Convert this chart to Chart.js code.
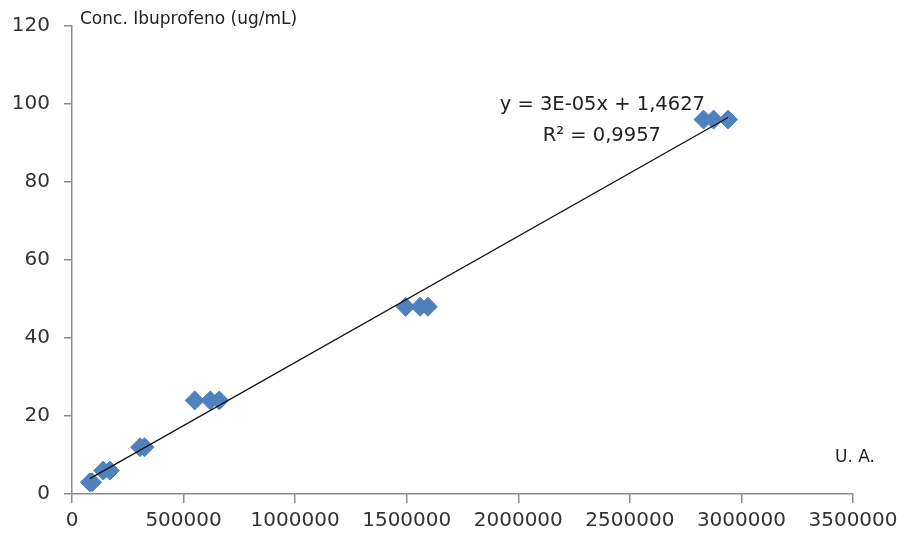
<!DOCTYPE html>
<html>
<head>
<meta charset="utf-8">
<script src="https://cdn.jsdelivr.net/npm/chart.js@4"></script>
<style>
  html, body { margin: 0; padding: 0; background: #fff; }
  #wrap { width: 906px; height: 543px; }
</style>
</head>
<body>
<div id="wrap"><canvas id="myChart" width="906" height="543"></canvas></div>
<script>
// data
var uaValues = [80000, 90000, 140000, 170000, 305000, 325000, 550000, 620000, 660000, 1495000, 1560000, 1595000, 2830000, 2875000, 2940000];
var concValues = [3, 3, 6, 6, 12, 12, 24, 24, 24, 48, 48, 48, 96, 96, 96];
var xTicks = [0, 500000, 1000000, 1500000, 2000000, 2500000, 3000000, 3500000];
var yTicks = [0, 20, 40, 60, 80, 100, 120];
var eqText = 'y = 3E-05x + 1,4627';
var r2Text = 'R² = 0,9957';
var yTitle = 'Conc. Ibuprofeno (ug/mL)';
var xTitle = 'U. A.';

// least squares trendline over the data range
function fitLine(xs, ys) {
  var n = xs.length, sx = 0, sy = 0, sxx = 0, sxy = 0;
  for (var i = 0; i < n; i++) {
    sx += xs[i]; sy += ys[i]; sxx += xs[i] * xs[i]; sxy += xs[i] * ys[i];
  }
  var m = (n * sxy - sx * sy) / (n * sxx - sx * sx);
  return { m: m, b: (sy - m * sx) / n };
}
var fit = fitLine(uaValues, concValues);
var xMin = Math.min.apply(null, uaValues), xMax = Math.max.apply(null, uaValues);
var trend = [{ x: xMin, y: fit.m * xMin + fit.b }, { x: xMax, y: fit.m * xMax + fit.b }];

var points = uaValues.map(function (v, i) { return { x: v, y: concValues[i] }; });

var fontFam = '"DejaVu Sans", sans-serif';

var textPlugin = {
  id: 'texts',
  afterDraw: function (chart) {
    var ctx = chart.ctx, a = chart.chartArea;
    ctx.save();
    ctx.fillStyle = '#222';
    ctx.font = '17px ' + fontFam;
    ctx.textBaseline = 'alphabetic';
    ctx.textAlign = 'left';
    ctx.fillText(yTitle, a.left + 8, 24);
    ctx.fillText(xTitle, 835, 462);
    ctx.font = '19.5px ' + fontFam;
    ctx.textAlign = 'right';
    ctx.fillText(eqText, 705, 110);
    ctx.fillText(r2Text, 661, 141);
    ctx.restore();
  }
};

new Chart(document.getElementById('myChart'), {
  type: 'scatter',
  data: {
    datasets: [{
      data: points,
      pointStyle: 'rectRot',
      pointRadius: 9.5,
      pointHoverRadius: 9.5,
      backgroundColor: '#4F81BD',
      borderColor: '#4F81BD',
      borderWidth: 1,
      order: 2
    }, {
      type: 'line',
      data: trend,
      borderColor: '#111',
      borderWidth: 1.3,
      pointRadius: 0,
      fill: false,
      order: 1
    }]
  },
  options: {
    responsive: false,
    animation: false,
    events: [],
    layout: { padding: { top: 26, right: 53, bottom: 0, left: 0 } },
    plugins: { legend: { display: false }, tooltip: { enabled: false } },
    scales: {
      x: {
        type: 'linear',
        min: 0, max: 3500000,
        afterBuildTicks: function (s) { s.ticks = xTicks.map(function (v) { return { value: v }; }); },
        afterFit: function (s) { s.height = 49; },
        grid: { drawOnChartArea: false, drawTicks: true, tickLength: 9, color: '#8c8c8c', lineWidth: 1.5 },
        border: { display: true, color: '#8c8c8c', width: 1.5 },
        ticks: {
          padding: 6,
          color: '#333',
          font: { family: fontFam, size: 20 },
          maxRotation: 0,
          autoSkip: false,
          callback: function (v) { return String(v); }
        }
      },
      y: {
        min: 0, max: 120,
        afterBuildTicks: function (s) { s.ticks = yTicks.map(function (v) { return { value: v }; }); },
        afterFit: function (s) { s.width = 72; },
        grid: { drawOnChartArea: false, drawTicks: true, tickLength: 8, color: '#8c8c8c', lineWidth: 1.5 },
        border: { display: true, color: '#8c8c8c', width: 1.5 },
        ticks: {
          padding: 14,
          color: '#333',
          font: { family: fontFam, size: 20 },
          callback: function (v) { return String(v); }
        }
      }
    }
  },
  plugins: [textPlugin]
});
</script>
</body>
</html>
